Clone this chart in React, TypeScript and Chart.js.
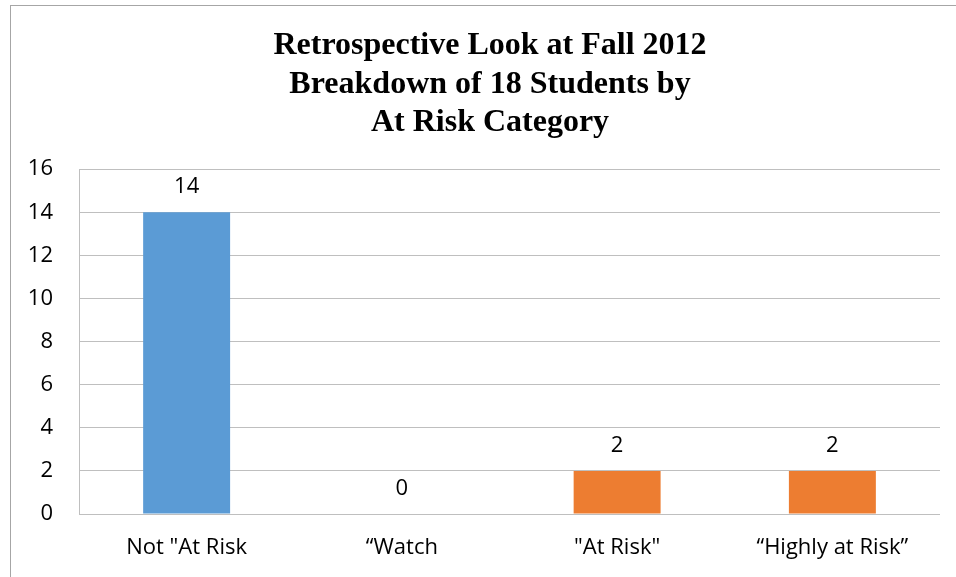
import React, { useEffect, useRef } from "react";
import { Chart, registerables } from "chart.js";

Chart.register(...registerables);

const titleLines = ["Retrospective Look at Fall 2012", "Breakdown of 18 Students by", "At Risk Category"];
const categories = ['Not "At Risk', "\u201CWatch", '"At Risk"', "\u201CHighly at Risk\u201D"];
const studentCounts = [14, 0, 2, 2];
const barColors = ["#5B9BD5", "#5B9BD5", "#ED7D31", "#ED7D31"];
const yMin = 0;
const yMax = 16;
const yStep = 2;

const tickFont = { family: "'Open Sans', sans-serif", size: 22 };

const framePlugin = {
  id: "frame",
  beforeDraw(chart: any) {
    const ctx = chart.ctx;
    ctx.save();
    ctx.strokeStyle = "#a6a6a6";
    ctx.lineWidth = 1;
    ctx.strokeRect(10.5, 5.5, 2000, 2000);
    ctx.restore();
  },
};

const titleCenterPlugin = {
  id: "titleCenter",
  afterLayout(chart: any) {
    const tb = chart.titleBlock;
    if (tb) {
      tb.left = 40;
      tb.right = chart.chartArea.right;
    }
  },
};

const valueLabelPlugin = {
  id: "valueLabels",
  afterDatasetsDraw(chart: any) {
    const ctx = chart.ctx;
    const meta = chart.getDatasetMeta(0);
    const data = chart.data.datasets[0].data;
    ctx.save();
    ctx.fillStyle = "#000000";
    ctx.font = `${tickFont.size}px ${tickFont.family}`;
    ctx.textAlign = "center";
    ctx.textBaseline = "alphabetic";
    meta.data.forEach((bar: any, i: number) => {
      ctx.fillText(String(data[i]), bar.x, bar.y - 19);
    });
    ctx.restore();
  },
};

export default function App() {
  const canvasRef = useRef<HTMLCanvasElement | null>(null);

  useEffect(() => {
    if (!canvasRef.current) return;
    const chart = new Chart(canvasRef.current, {
      type: "bar",
      data: {
        labels: categories,
        datasets: [
          {
            data: studentCounts,
            backgroundColor: barColors,
            borderWidth: 0,
            barPercentage: 0.404,
            categoryPercentage: 1,
          },
        ],
      },
      options: {
        responsive: false,
        animation: false,
        devicePixelRatio: 1,
        layout: { padding: { left: 16, right: 16, top: 27, bottom: 0 } },
        plugins: {
          legend: { display: false },
          tooltip: { enabled: false },
          title: {
            display: true,
            text: titleLines,
            color: "#000000",
            font: { family: "'Liberation Serif', 'Times New Roman', serif", size: 32, weight: "bold", lineHeight: 1.2 },
            padding: { top: 0, bottom: 27 },
          },
        },
        scales: {
          x: {
            afterFit(scale: any) {
              scale.height = 63;
            },
            grid: { display: false, drawTicks: false },
            border: { display: false },
            ticks: { color: "#000000", font: tickFont, padding: 21, maxRotation: 0 },
          },
          y: {
            min: yMin,
            max: yMax,
            afterFit(scale: any) {
              scale.width = 63;
            },
            grid: { color: "#bfbfbf", lineWidth: 1, drawTicks: false },
            border: { display: true, color: "#bfbfbf", width: 1 },
            ticks: { stepSize: yStep, color: "#000000", font: tickFont, padding: 26 },
          },
        },
      },
      plugins: [framePlugin, titleCenterPlugin, valueLabelPlugin],
    });
    return () => chart.destroy();
  }, []);

  return (
    <div style={{ position: "fixed", left: 0, top: 0, width: 956, height: 577, background: "#ffffff" }}>
      <canvas ref={canvasRef} width={956} height={577} />
    </div>
  );
}
